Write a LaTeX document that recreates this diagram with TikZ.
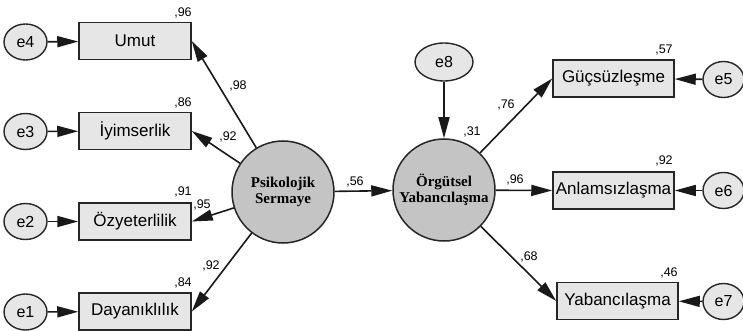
\documentclass[tikz,border=0pt]{standalone}
\usepackage{fontspec}
\setmainfont{Liberation Sans}
\newfontfamily\latserif{Liberation Serif}
\usetikzlibrary{arrows.meta,shapes.geometric}
\definecolor{boxfill}{HTML}{E6E6E6}
\definecolor{latfill}{HTML}{C4C4C4}
\begin{document}
\begin{tikzpicture}[x=1pt,y=-1pt,
  obs/.style={draw=black!85, line width=1.5pt, fill=boxfill, minimum width=112pt, minimum height=37pt, inner sep=0pt, font=\fontsize{17}{20}\selectfont},
  obsr/.style={obs, minimum width=121pt},
  err/.style={ellipse, draw=black!85, line width=1.4pt, fill=boxfill, minimum width=43pt, minimum height=36pt, inner sep=0pt, font=\fontsize{16}{18}\selectfont},
  lat/.style={circle, draw=black!85, line width=1.5pt, fill=latfill, minimum size=102pt, inner sep=0pt, align=center, font=\latserif\bfseries\fontsize{15}{16}\selectfont},
  coef/.style={font=\fontsize{12.5}{14}\selectfont, inner sep=0pt},
  arr/.style={-{Triangle[length=21pt,width=11pt]}, line width=1.6pt, draw=black!90}
]
\useasboundingbox (0,0) rectangle (743,331);

% latent variables
\node[lat] (ps) at (283,192) {Psikolojik\\Sermaye};
\node[lat] (org) at (444,190) {Örgütsel\\Yabancılaşma};

% left indicators
\node[obs] (umut) at (135,41) {Umut};
\node[obs] (iyi) at (135,131) {İyimserlik};
\node[obs] (ozy) at (135,221.5) {Özyeterlilik};
\node[obs] (day) at (135,311.5) {Dayanıklılık};

% right indicators
\node[obsr] (guc) at (613.5,78.5) {Güçsüzleşme};
\node[obsr] (anl) at (613.5,190.5) {Anlamsızlaşma};
\node[obsr] (yab) at (617.5,301) {Yabancılaşma};

% error terms
\node[err] (e4) at (25.5,42) {e4};
\node[err] (e3) at (25.5,131.5) {e3};
\node[err] (e2) at (25.5,221.5) {e2};
\node[err] (e1) at (25.5,312) {e1};
\node[err, minimum width=58pt, minimum height=38pt] (e8) at (444,62) {e8};
\node[err, minimum width=41pt] (e5) at (723.5,79.5) {e5};
\node[err, minimum width=41pt] (e6) at (723.5,190.5) {e6};
\node[err, minimum width=41pt] (e7) at (723.5,301.5) {e7};

% connectors
\draw[arr] (e4) -- (umut);
\draw[arr] (e3) -- (iyi);
\draw[arr] (e2) -- (ozy);
\draw[arr] (e1) -- (day);
\draw[arr] (ps) -- (umut.east);
\draw[arr] (ps) -- (iyi.east);
\draw[arr] (ps) -- (ozy.east);
\draw[arr] (ps) -- (day.east);
\draw[arr] (ps) -- (org);
\draw[arr] (e8) -- (org);
\draw[arr] (org) -- (guc.west);
\draw[arr] (org) -- (anl.west);
\draw[arr] (org) -- (yab.west);
\draw[arr] (e5) -- (guc);
\draw[arr] (e6) -- (anl);
\draw[arr] (e7) -- (yab);

% coefficients
\node[coef] (c96) at (183,13) {,96};
\node[coef] (c98) at (238,86) {,98};
\node[coef] (c86) at (183,103) {,86};
\node[coef] (c92a) at (228,137) {,92};
\node[coef] (c91) at (183,192) {,91};
\node[coef] (c95) at (202,205) {,95};
\node[coef] (c92b) at (211,266) {,92};
\node[coef] (c84) at (183,283) {,84};
\node[coef] (c56) at (355,182) {,56};
\node[coef] (c31) at (472,132) {,31};
\node[coef] (c76) at (506,105) {,76};
\node[coef] (c57) at (664,50) {,57};
\node[coef] (c92c) at (664,161) {,92};
\node[coef] (c96b) at (515,180) {,96};
\node[coef] (c68) at (529,257) {,68};
\node[coef] (c46) at (669,273) {,46};
\end{tikzpicture}
\end{document}
